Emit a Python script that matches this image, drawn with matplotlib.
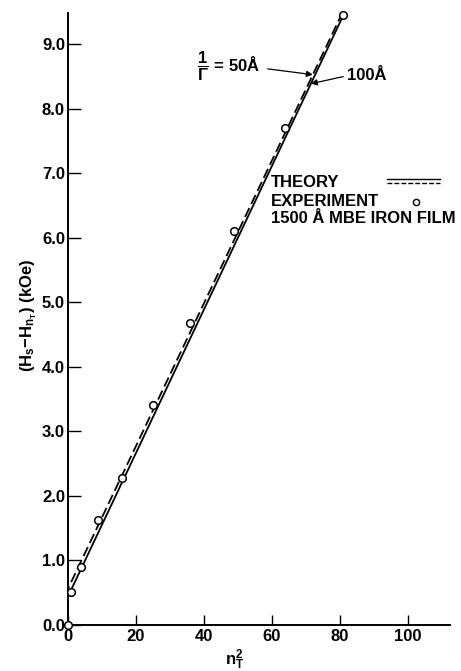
import numpy as np
import matplotlib.pyplot as plt

plt.rcParams['font.family'] = 'Liberation Sans'
plt.rcParams['font.weight'] = 'bold'
plt.rcParams['mathtext.fontset'] = 'custom'
plt.rcParams['mathtext.rm'] = 'Liberation Sans:bold'
plt.rcParams['mathtext.it'] = 'Liberation Sans:bold'
plt.rcParams['mathtext.bf'] = 'Liberation Sans:bold'
plt.rcParams['mathtext.default'] = 'bf'

# measured resonance field shifts vs n_T^2
n2_exp = [0, 1, 4, 9, 16, 25, 36, 49, 64, 81]
dH_exp = [0.0, 0.50, 0.90, 1.62, 2.28, 3.40, 4.68, 6.10, 7.70, 9.46]

# theory curves for 1/Gamma = 100 A (solid) and 50 A (dashed)
n2_th = [0, 0, 81]
dH_100 = [0.0, 0.43, 9.45]
dH_50 = [0.0, 0.55, 9.52]

xticks = [0, 20, 40, 60, 80, 100]
yticks = [0.0, 1.0, 2.0, 3.0, 4.0, 5.0, 6.0, 7.0, 8.0, 9.0]

fs = 12

fig = plt.figure(figsize=(4.61, 6.71), dpi=100)
ax = fig.add_axes([0.147, 0.069, 0.830, 0.911])

ax.plot(n2_th, dH_100, color='black', lw=1.3, solid_capstyle='butt')
ax.plot(n2_th, dH_50, color='black', lw=1.3, dashes=(5.5, 2.5))
ax.plot(n2_exp, dH_exp, 'o', mfc='white', mec='black', mew=1.1, ms=5.5, zorder=5,
        clip_on=False)

ax.set_xlim(0, 112.5)
ax.set_ylim(0, 9.48)
ax.set_xticks(xticks)
ax.set_xticklabels([str(t) for t in xticks])
ax.set_yticks(yticks)
ax.set_yticklabels(['%.1f' % t for t in yticks])

for s in ['top', 'right']:
    ax.spines[s].set_visible(False)
for s in ['left', 'bottom']:
    ax.spines[s].set_linewidth(1.4)
ax.tick_params(direction='in', length=9, width=1.0, labelsize=fs, pad=2)
ax.tick_params(axis='x', length=7, pad=3)

fig.text(0.062, 0.53, r'(H$_s$$-$H$_{n_T}$) (kOe)', rotation=90, ha='center', va='center',
         fontsize=fs)
fig.text(0.51, 0.016, r'n$_T^2$', ha='center', va='center', fontsize=fs)

# curve labels with arrows, tips placed on the lines
y50 = 8.53
x50 = np.interp(y50, dH_50[1:], n2_th[1:])
ax.annotate('', xy=(x50, y50), xytext=(58.8, 8.62),
            arrowprops=dict(arrowstyle='-|>', color='black', lw=0.9, mutation_scale=9,
                            shrinkA=0, shrinkB=0))
ax.text(38.0, 8.66, r'$\dfrac{1}{\Gamma}$ = 50Å', fontsize=fs, va='center', ha='left')
y100 = 8.39
x100 = np.interp(y100, dH_100[1:], n2_th[1:])
ax.annotate('', xy=(x100, y100), xytext=(81.0, 8.50),
            arrowprops=dict(arrowstyle='-|>', color='black', lw=0.9, mutation_scale=9,
                            shrinkA=0, shrinkB=0))
ax.text(82.0, 8.52, '100Å', fontsize=fs, va='center', ha='left')

# legend block
ax.text(59.8, 6.86, 'THEORY', fontsize=fs, va='center')
ax.text(59.8, 6.57, 'EXPERIMENT', fontsize=fs, va='center')
ax.text(59.8, 6.30, '1500 Å MBE IRON FILM', fontsize=fs, va='center')
ax.plot([94, 109.5], [6.91, 6.91], color='black', lw=1.0)
ax.plot([94, 109.5], [6.85, 6.85], color='black', lw=1.0, dashes=(3.5, 1.5))
ax.plot([102.4], [6.56], 'o', mfc='white', mec='black', mew=1.0, ms=4.5)

fig.savefig('out.png', dpi=100)
